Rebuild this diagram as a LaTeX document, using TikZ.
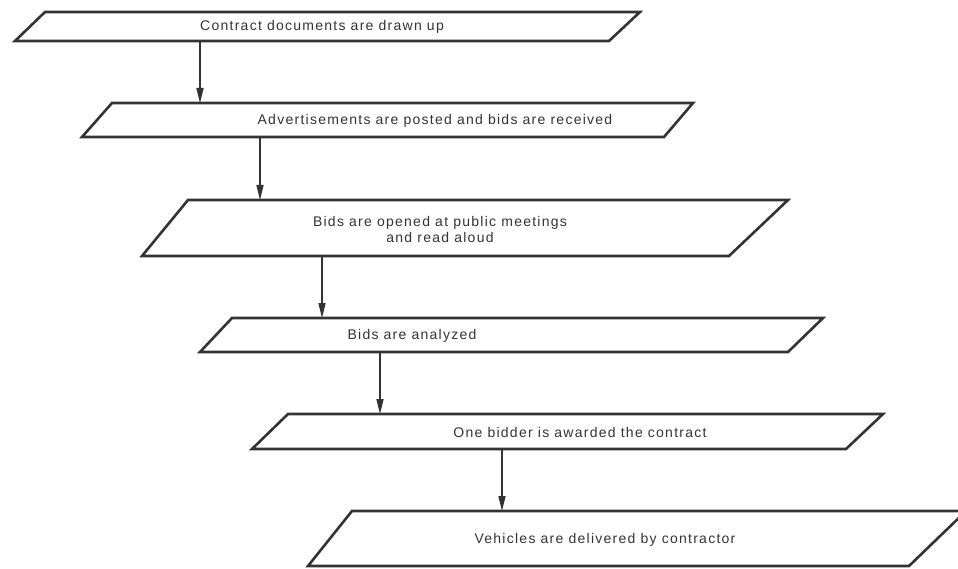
\documentclass[tikz,border=0pt]{standalone}
\usepackage{fontspec}
\setmainfont{Liberation Sans}
\newfontfamily\lblfont[LetterSpace=9]{Liberation Sans}
\usetikzlibrary{arrows.meta}
\begin{document}
\begin{tikzpicture}[x=1pt,y=-1pt,
  box/.style={draw=black!80, line width=2.6pt, line join=miter},
  lbl/.style={font=\lblfont\fontsize{14}{16}\selectfont, text=black!80, inner sep=0pt, align=center},
  conn/.style={draw=black!80, line width=1.4pt, -{Triangle[length=15pt,width=7pt]}}]
\useasboundingbox (0,0) rectangle (958,569);
% boxes
\draw[box] (45,12) -- (640,12) -- (609,41) -- (15,41) -- cycle;
\draw[box] (112,103) -- (693,103) -- (664,137) -- (82,137) -- cycle;
\draw[box] (188,200) -- (788,200) -- (729,256) -- (142,256) -- cycle;
\draw[box] (232,318) -- (823,318) -- (788,352) -- (200,352) -- cycle;
\draw[box] (288,414) -- (883,414) -- (846,449) -- (252,449) -- cycle;
\draw[box] (352,511) -- (966,511) -- (909,566) -- (308,566) -- cycle;
% labels
\node[lbl] (t1) at (322,27) {Contract documents are drawn up};
\node[lbl] (t2) at (435,121) {Advertisements are posted and bids are received};
\node[lbl] (t3) at (440,229) {Bids are opened at public meetings\\and read aloud};
\node[lbl] (t4) at (412,336) {Bids are analyzed};
\node[lbl] (t5) at (580,432) {One bidder is awarded the contract};
\node[lbl] (t6) at (605,540) {Vehicles are delivered by contractor};
% connector end points
\coordinate (a1s) at (200,41);  \coordinate (a1e) at (200,103);
\coordinate (a2s) at (260,137); \coordinate (a2e) at (260,200);
\coordinate (a3s) at (322,256); \coordinate (a3e) at (322,318);
\coordinate (a4s) at (380,352); \coordinate (a4e) at (380,414);
\coordinate (a5s) at (502,449); \coordinate (a5e) at (502,511);
\draw[conn] (a1s) -- (a1e);
\draw[conn] (a2s) -- (a2e);
\draw[conn] (a3s) -- (a3e);
\draw[conn] (a4s) -- (a4e);
\draw[conn] (a5s) -- (a5e);
\end{tikzpicture}
\end{document}
